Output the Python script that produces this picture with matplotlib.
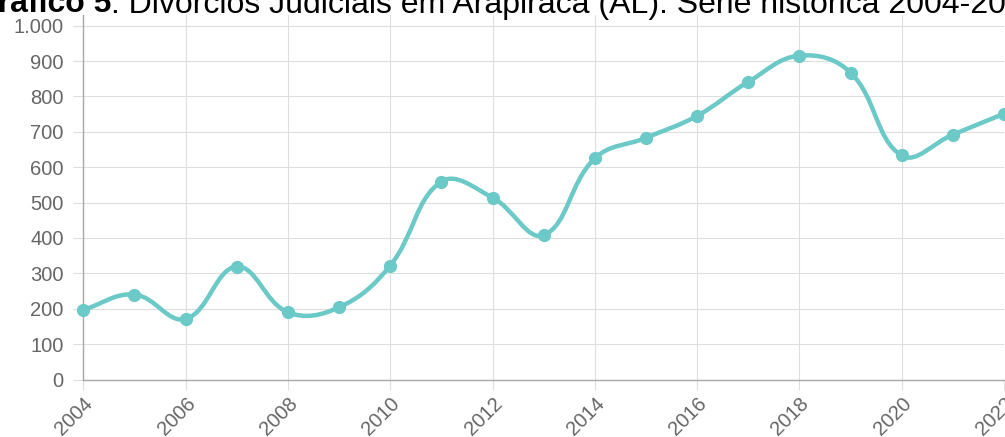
import matplotlib
matplotlib.use("Agg")
import matplotlib.pyplot as plt
import matplotlib.patches as mpatches
import matplotlib.path as mpath
import matplotlib.transforms as mtransforms
import numpy as np

plt.rcParams['font.family'] = ['Liberation Sans', 'DejaVu Sans']

# data
years = list(range(2004, 2023))
divorces = [197, 240, 171, 319, 190, 204, 322, 559, 514, 408,
            625, 683, 745, 841, 915, 867, 633, 692, 751]
xtick_years = list(range(2004, 2023, 2))
ytick_values = list(range(0, 1001, 100))
ytick_labels = ['0', '100', '200', '300', '400', '500', '600', '700', '800', '900', '1.000']

title_bold = 'Gráfico 5'
title_rest = ': Divórcios Judiciais em Arapiraca (AL): Série histórica 2004-2022'

line_color = '#6bc9c7'
grid_color = '#dedede'
axis_color = '#a8a8a8'
text_color = '#666666'

W, H = 1005, 437
fig = plt.figure(figsize=(W / 100, H / 100), dpi=100)
ax = fig.add_axes([83.3 / W, 57.5 / H, 920.7 / W, 364.5 / H])
ax.set_xlim(2004, 2022)
ax.set_ylim(0, 1030)

# pixel scale, used for the chart.js style bezier tension
sx = 920.7 / 18
sy = 353.8 / 1000


def control_points(xs, ys, t=0.4):
    px = np.array(xs, float) * sx
    py = np.array(ys, float) * sy
    n = len(px)
    cin, cout = [], []
    for i in range(n):
        a = max(i - 1, 0)
        b = min(i + 1, n - 1)
        d01 = np.hypot(px[i] - px[a], py[i] - py[a])
        d12 = np.hypot(px[b] - px[i], py[b] - py[i])
        s01 = d01 / (d01 + d12)
        s12 = d12 / (d01 + d12)
        fa, fb = t * s01, t * s12
        dx, dy = px[b] - px[a], py[b] - py[a]
        cin.append((px[i] - fa * dx, py[i] - fa * dy))
        cout.append((px[i] + fb * dx, py[i] + fb * dy))
    return cin, cout


cin, cout = control_points(years, divorces)
verts = [(years[0], divorces[0])]
codes = [mpath.Path.MOVETO]
for i in range(len(years) - 1):
    verts.append((cout[i][0] / sx, cout[i][1] / sy))
    verts.append((cin[i + 1][0] / sx, cin[i + 1][1] / sy))
    verts.append((years[i + 1], divorces[i + 1]))
    codes += [mpath.Path.CURVE4] * 3
patch = mpatches.PathPatch(mpath.Path(verts, codes), fc='none', ec=line_color,
                           lw=3.2, capstyle='round', joinstyle='round',
                           zorder=3, clip_on=False)
ax.add_patch(patch)
ax.plot(years, divorces, 'o', color=line_color, ms=8.5, zorder=4, clip_on=False)

ax.set_yticks(ytick_values)
ax.set_yticklabels(ytick_labels)
ax.set_xticks(xtick_years)
ax.set_xticklabels([str(y) for y in xtick_years], rotation=45, ha='right',
                   va='top', rotation_mode='anchor')
# nudge rotated labels so their end sits under the tick
shift = mtransforms.ScaledTranslation(-5 / 100, 0, fig.dpi_scale_trans)
for lab in ax.get_xticklabels():
    lab.set_transform(lab.get_transform() + shift)
ax.grid(True, color=grid_color, lw=0.8)
ax.set_axisbelow(True)
for s in ['top', 'right']:
    ax.spines[s].set_visible(False)
for s in ['left', 'bottom']:
    ax.spines[s].set_color(axis_color)
    ax.spines[s].set_linewidth(1.0)
ax.tick_params(axis='both', length=7.2, width=0.8, color=grid_color,
               labelcolor=text_color, labelsize=14.5)
ax.tick_params(axis='y', pad=7)
ax.tick_params(axis='x', pad=3)

# title, cropped by the top edge like in the source
tb = fig.text(-27 / W, 1 - 12.5 / H, title_bold, fontsize=23, fontweight='bold',
              color='black', va='baseline', ha='left')
fig.canvas.draw()
bb = tb.get_window_extent()
fig.text(bb.x1 / W, 1 - 12.5 / H, title_rest, fontsize=23, color='black',
         va='baseline', ha='left')

fig.savefig('out.png', dpi=100)
